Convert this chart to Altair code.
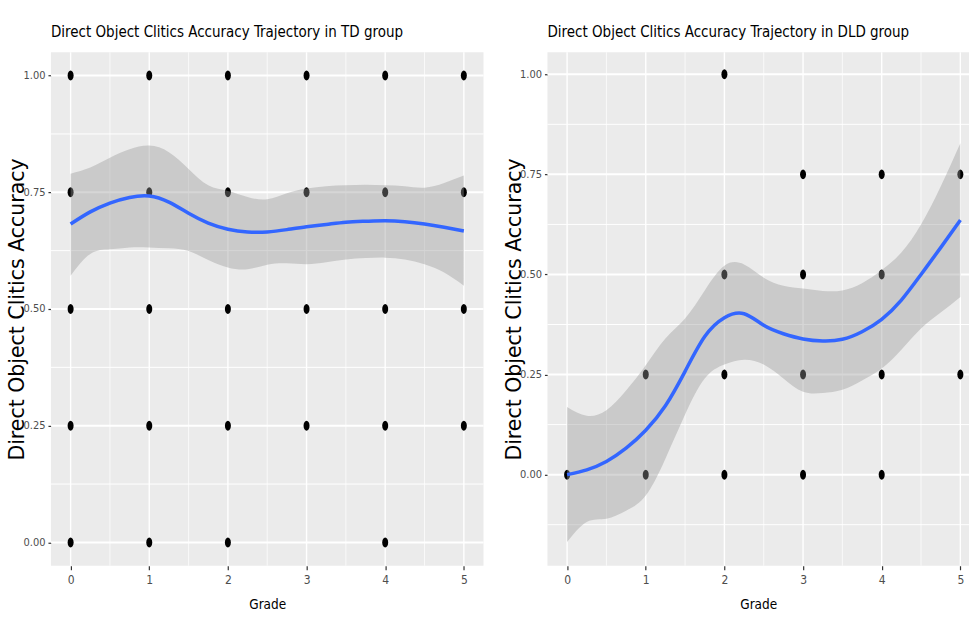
import altair as alt
import pandas as pd

# ---- observed accuracy per child (grade, accuracy) ----
td_grade = [0, 1, 2, 3, 4, 5,
            0, 1, 2, 3, 4, 5,
            0, 1, 2, 3, 4, 5,
            0, 1, 2, 3, 4, 5,
            0, 1, 2, 4]
td_acc = [1.0, 1.0, 1.0, 1.0, 1.0, 1.0,
          0.75, 0.75, 0.75, 0.75, 0.75, 0.75,
          0.5, 0.5, 0.5, 0.5, 0.5, 0.5,
          0.25, 0.25, 0.25, 0.25, 0.25, 0.25,
          0.0, 0.0, 0.0, 0.0]

dld_grade = [2,
             3, 4, 5,
             2, 3, 4,
             1, 2, 3, 4, 5,
             0, 1, 2, 3, 4]
dld_acc = [1.0,
           0.75, 0.75, 0.75,
           0.5, 0.5, 0.5,
           0.25, 0.25, 0.25, 0.25, 0.25,
           0.0, 0.0, 0.0, 0.0, 0.0]

# ---- loess trajectory with 95% band ----
smooth_grade = [0, 0.25, 0.5, 0.75, 1, 1.25, 1.5, 1.75, 2, 2.25, 2.5,
                2.75, 3, 3.25, 3.5, 3.75, 4, 4.25, 4.5, 4.75, 5]

td_fit = [0.682, 0.708, 0.727, 0.739, 0.742, 0.729, 0.705, 0.684, 0.671, 0.665, 0.665,
          0.670, 0.676, 0.681, 0.686, 0.688, 0.689, 0.687, 0.682, 0.675, 0.667]
td_hi = [0.790, 0.803, 0.824, 0.842, 0.850, 0.836, 0.800, 0.765, 0.753, 0.740, 0.735,
         0.748, 0.758, 0.763, 0.765, 0.766, 0.765, 0.763, 0.760, 0.770, 0.786]
td_lo = [0.571, 0.618, 0.628, 0.632, 0.632, 0.630, 0.624, 0.605, 0.589, 0.585, 0.595,
         0.598, 0.596, 0.600, 0.606, 0.609, 0.610, 0.606, 0.596, 0.578, 0.550]

dld_fit = [0.000, 0.012, 0.033, 0.066, 0.111, 0.172, 0.258, 0.345, 0.392, 0.402, 0.373,
           0.352, 0.339, 0.334, 0.338, 0.357, 0.388, 0.436, 0.500, 0.567, 0.636]
dld_hi = [0.169, 0.147, 0.161, 0.210, 0.273, 0.340, 0.390, 0.460, 0.522, 0.525, 0.492,
          0.472, 0.465, 0.459, 0.460, 0.478, 0.511, 0.555, 0.625, 0.720, 0.828]
dld_lo = [-0.168, -0.118, -0.110, -0.090, -0.052, 0.040, 0.150, 0.240, 0.275, 0.287, 0.275,
          0.240, 0.207, 0.204, 0.212, 0.235, 0.265, 0.312, 0.365, 0.405, 0.444]

# ---- axis breaks ----
grade_breaks = [0, 1, 2, 3, 4, 5]
grade_minor = [0.5, 1.5, 2.5, 3.5, 4.5]
acc_breaks = [0.0, 0.25, 0.5, 0.75, 1.0]
td_acc_minor = [0.125, 0.375, 0.625, 0.875]
dld_acc_minor = [-0.125, 0.125, 0.375, 0.625, 0.875]

NARROW = "DejaVu Sans Condensed, Liberation Sans, sans-serif"
WIDE = "DejaVu Sans, Liberation Sans, sans-serif"
PANEL_H = 514

# elliptical dot (cubic Bezier ellipse, half-width 0.6, half-height 1)
DOT = ("M 0 -1 C 0.331 -1 0.6 -0.552 0.6 0 C 0.6 0.552 0.331 1 0 1 "
       "C -0.331 1 -0.6 0.552 -0.6 0 C -0.6 -0.552 -0.331 -1 0 -1 Z")

x_axis = alt.Axis(values=grade_breaks, format="d", grid=False, domain=False,
                  tickColor="#333333", tickSize=4, tickWidth=1.2,
                  labelColor="#4D4D4D", labelFont=NARROW, labelFontSize=12,
                  labelPadding=5, title="Grade", titleFont=NARROW,
                  titleFontSize=13.5, titleFontWeight="normal", titleColor="black",
                  titlePadding=12)
y_axis = alt.Axis(values=acc_breaks, format=".2f", grid=False, domain=False,
                  tickColor="#333333", tickSize=3, tickWidth=1.2,
                  labelColor="#4D4D4D", labelFont=NARROW, labelFontSize=11,
                  labelPadding=3, title="Direct Object Clitics Accuracy",
                  titleFont=WIDE, titleFontSize=20.5, titleFontWeight="normal",
                  titleColor="black", titleX=-23)


def panel(title, grade, acc, fit, lo, hi, y_domain, x_domain, width, y_minor):
    xs = alt.Scale(domain=x_domain, nice=False, zero=False)
    ys = alt.Scale(domain=y_domain, nice=False, zero=False)

    def xe(field):
        return alt.X(field, type="quantitative", scale=xs, axis=x_axis)

    def ye(field):
        return alt.Y(field, type="quantitative", scale=ys, axis=y_axis)

    pts = pd.DataFrame({"Grade": grade, "Accuracy": acc})
    sm = pd.DataFrame({"Grade": smooth_grade, "fit": fit, "lo": lo, "hi": hi})

    minor_x = alt.Chart(pd.DataFrame({"Grade": grade_minor})).mark_rule(
        color="white", strokeWidth=0.7).encode(x=xe("Grade"))
    minor_y = alt.Chart(pd.DataFrame({"Accuracy": y_minor})).mark_rule(
        color="white", strokeWidth=1.0).encode(y=ye("Accuracy"))
    major_x = alt.Chart(pd.DataFrame({"Grade": grade_breaks})).mark_rule(
        color="white", strokeWidth=1.4).encode(x=xe("Grade"))
    major_y = alt.Chart(pd.DataFrame({"Accuracy": acc_breaks})).mark_rule(
        color="white", strokeWidth=2.0).encode(y=ye("Accuracy"))

    dots = alt.Chart(pts).mark_point(
        shape=DOT, filled=True, color="black", opacity=1, size=100
    ).encode(x=xe("Grade"), y=ye("Accuracy"))

    band = alt.Chart(sm).mark_area(
        color="#999999", opacity=0.4, interpolate="natural"
    ).encode(x=xe("Grade"), y=ye("lo"), y2=alt.Y2("hi"))

    line = alt.Chart(sm).mark_line(
        color="#3366FF", strokeWidth=3.5, interpolate="natural"
    ).encode(x=xe("Grade"), y=ye("fit"))

    return alt.layer(minor_x, minor_y, major_x, major_y, dots, band, line).properties(
        width=width, height=PANEL_H,
        title=alt.TitleParams(title, anchor="start", frame="group", font=NARROW,
                              fontSize=15, fontWeight="normal", color="black",
                              baseline="bottom", offset=-3),
    )


td_panel = panel("Direct Object Clitics Accuracy Trajectory in TD group",
                 td_grade, td_acc, td_fit, td_lo, td_hi,
                 [-0.05, 1.05], [-0.25, 5.25], 433, td_acc_minor)
dld_panel = panel("Direct Object Clitics Accuracy Trajectory in DLD group",
                  dld_grade, dld_acc, dld_fit, dld_lo, dld_hi,
                  [-0.2275, 1.055], [-0.25, 5.11], 422, dld_acc_minor)

chart = alt.hconcat(td_panel, dld_panel, spacing=20).properties(
    padding={"left": 8, "top": 24, "right": 0, "bottom": 0},
    background="white",
).configure_view(fill="#EBEBEB", strokeWidth=0)

chart.save("out.html", embed_options={"renderer": "svg", "actions": False})
